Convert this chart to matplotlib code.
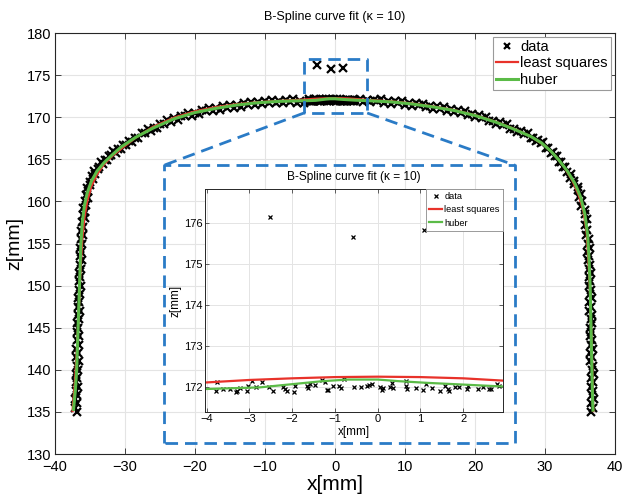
import matplotlib
matplotlib.use('Agg')
import matplotlib.pyplot as plt

plt.rcParams['font.family'] = ['Liberation Sans', 'DejaVu Sans']

# scanned profile points (mm)
data_x = [
    # left leg
    -36.80, -37.14, -36.92, -37.16, -36.79, -36.98, -36.71, -37.05, -36.83, -37.07,
    -36.70, -36.89, -36.62, -36.96, -36.74, -36.98, -36.61, -36.80, -36.53, -36.87,
    -36.65, -36.88, -36.51, -36.68, -36.41, -36.74, -36.52, -36.74, -36.37, -36.55,
    -36.28, -36.60, -36.38, -36.61, -36.24, -36.41, -36.14, -36.47, -36.25, -36.47,
    -36.10, -36.25, -35.95, -36.25, -36.00, -36.20,
    # left corner
    -35.73, -36.06, -35.76, -35.96, -35.52, -35.65, -35.28, -35.58, -35.25, -35.42,
    -34.95, -34.98, -34.53, -34.76, -34.35, -34.40, -33.80, -33.78,
    # left half of the arch
    -33.5, -33.2, -32.9, -32.6, -32.3, -31.98, -31.65, -31.33, -31.0, -30.63,
    -30.25, -29.88, -29.5, -29.03, -28.55, -28.08, -27.6, -27.18, -26.76, -26.34,
    -25.92, -25.5, -25.0, -24.5, -24.0, -23.5, -23.0, -22.5, -22.0, -21.5,
    -21.0, -20.5, -20.0, -19.5, -19.0, -18.5, -18.0, -17.5, -17.0, -16.5,
    -16.0, -15.5, -15.0, -14.5, -14.0, -13.5, -13.0, -12.5, -12.0, -11.5,
    -11.0, -10.5, -10.0, -9.5, -9.0, -8.5, -8.0, -7.5, -7.0, -6.5,
    -6.0, -5.5, -5.0, -4.5,
    # crown (incl. outliers)
    -3.78, -3.75, -3.61, -3.45, -3.31, -3.30, -3.21, -3.06, -3.03, -2.95,
    -2.85, -2.71, -2.54, -2.53, -2.46, -2.22, -2.17, -2.13, -1.97, -1.93,
    -1.66, -1.64, -1.58, -1.47, -1.31, -1.23, -1.19, -1.16, -1.04, -0.90,
    -0.86, -0.79, -0.59, -0.55, -0.38, -0.26, -0.20, -0.14, 0.05, 0.11,
    0.13, 0.29, 0.34, 0.35, 0.65, 0.66, 0.68, 0.89, 1.05, 1.09,
    1.14, 1.28, 1.46, 1.57, 1.65, 1.67, 1.81, 1.91, 2.08, 2.12,
    2.34, 2.47, 2.61, 2.65, 2.78, 2.84,
    # right half of the arch
    3.5, 4.0, 4.5, 5.0, 5.5, 6.0, 6.5, 7.0, 7.5, 8.0,
    8.5, 9.0, 9.5, 10.0, 10.5, 11.0, 11.5, 12.0, 12.5, 13.0,
    13.5, 14.0, 14.5, 15.0, 15.5, 16.0, 16.5, 17.0, 17.5, 18.0,
    18.5, 19.0, 19.5, 20.0, 20.5, 21.0, 21.5, 22.0, 22.5, 23.0,
    23.5, 24.0, 24.5, 25.0, 25.5, 26.0, 26.5, 27.0, 27.5, 28.0,
    28.35, 28.7, 29.05, 29.4, 29.75, 30.1, 30.45, 30.8,
    31.1, 31.4, 31.7, 32.0, 32.3, 32.6, 32.9, 33.2,
    # right corner
    33.72, 33.62, 34.10, 34.08, 34.65, 34.65, 35.12, 34.92, 35.30, 35.18,
    35.70, 35.65, 36.02, 35.72, 36.05, 35.88,
    # right leg
    36.28, 36.12, 36.42, 36.05, 36.32, 36.08, 36.48, 36.30, 36.60, 36.22,
    36.48, 36.23, 36.61, 36.43, 36.71, 36.32, 36.56, 36.31, 36.69, 36.50,
    36.78, 36.40, 36.64, 36.38, 36.76, 36.58, 36.86, 36.47, 36.71, 36.46,
    36.84, 36.65, 36.93, 36.55, 36.79, 36.53, 36.91, 36.72, 37.00, 36.60,
    36.84, 36.60,
]
data_z = [
    135.0, 135.5, 136.0, 136.5, 137.0, 137.5, 138.0, 138.5, 139.0, 139.5,
    140.0, 140.5, 141.0, 141.5, 142.0, 142.5, 143.0, 143.5, 144.0, 144.5,
    145.0, 145.5, 146.0, 146.5, 147.0, 147.5, 148.0, 148.5, 149.0, 149.5,
    150.0, 150.5, 151.0, 151.5, 152.0, 152.5, 153.0, 153.5, 154.0, 154.5,
    155.0, 155.5, 156.0, 156.5, 157.0, 157.5,
    158.0, 158.4, 158.8, 159.2, 159.6, 160.0, 160.4, 160.8, 161.2, 161.6,
    162.0, 162.33, 162.65, 162.98, 163.3, 163.58, 163.85, 164.13,
    164.62, 164.45, 164.90, 164.86, 165.45, 165.48, 165.97, 165.80, 166.25, 166.18,
    166.75, 166.75, 167.22, 167.07, 167.55, 167.53, 168.15, 168.13, 168.58, 168.36,
    168.77, 168.68, 169.23, 169.21, 169.66, 169.44, 169.85, 169.70, 170.18, 170.10,
    170.49, 170.20, 170.55, 170.36, 170.82, 170.70, 171.05, 170.74, 171.05, 170.85,
    171.28, 171.15, 171.49, 171.15, 171.45, 171.23, 171.65, 171.50, 171.82, 171.47,
    171.75, 171.51, 171.90, 171.73, 172.02, 171.65, 171.90, 171.65, 172.03, 171.85,
    172.13, 171.74, 171.98, 171.72,
    171.92, 172.12, 171.96, 171.96, 171.88, 171.90, 171.98, 171.92, 172.04, 172.16,
    172.02, 172.12, 172.00, 176.16, 171.92, 172.00, 171.96, 171.92, 171.88, 172.04,
    172.04, 171.98, 172.09, 172.06, 172.19, 172.12, 171.94, 171.94, 172.04, 172.04,
    171.98, 172.21, 175.67, 172.01, 172.01, 172.04, 172.06, 172.09, 172.00, 171.94,
    171.98, 172.00, 172.11, 171.98, 172.15, 172.04, 171.96, 171.98, 171.93, 175.84,
    172.09, 171.98, 171.90, 172.04, 171.96, 171.90, 172.02, 172.00, 171.96, 172.04,
    171.96, 172.00, 171.96, 171.96, 172.09, 172.04,
    172.22, 171.81, 172.03, 171.75, 172.10, 171.87, 172.12, 171.69, 171.90, 171.60,
    171.93, 171.69, 171.92, 171.47, 171.66, 171.35, 171.66, 171.40, 171.62, 171.16,
    171.33, 171.00, 171.30, 171.03, 171.23, 170.76, 170.92, 170.58, 170.85, 170.55,
    170.72, 170.22, 170.35, 169.98, 170.22, 169.88, 170.02, 169.49, 169.58, 169.18,
    169.39, 169.03, 169.14, 168.58, 168.65, 168.20, 168.39, 168.01, 168.10, 167.52,
    167.57, 167.13, 167.32, 166.95, 167.00, 166.32, 166.32, 165.78,
    165.87, 165.40, 165.40, 164.72, 164.63, 164.03, 164.07, 163.55,
    163.2, 162.8, 162.45, 162.1, 161.7, 161.3, 160.9, 160.5, 160.0, 159.5,
    159.0, 158.5, 157.9, 157.25, 156.6, 156.0,
    155.5, 155.0, 154.5, 154.0, 153.5, 153.0, 152.5, 152.0, 151.5, 151.0,
    150.5, 150.0, 149.5, 149.0, 148.5, 148.0, 147.5, 147.0, 146.5, 146.0,
    145.5, 145.0, 144.5, 144.0, 143.5, 143.0, 142.5, 142.0, 141.5, 141.0,
    140.5, 140.0, 139.5, 139.0, 138.5, 138.0, 137.5, 137.0, 136.5, 136.0,
    135.5, 135.0,
]

# least squares B-spline fit
lsq_x = [-37.5, -37.2, -36.9, -36.6, -36.35, -36.1, -35.8, -35.4, -34.8, -34.0,
         -33.0, -31.8, -30.3, -28.5, -26.0, -23.0, -20.0, -17.0, -14.0, -11.0,
         -8.0, -6.0, -5.0, -4.0, -3.0, -2.0, -1.0, 0.0, 1.0, 2.0,
         3.0, 4.0, 5.0, 8.0, 11.0, 14.0, 17.0, 20.0, 23.0, 25.5,
         28.0, 30.0, 31.5, 32.8, 33.9, 34.8, 35.5, 35.95, 36.2, 36.4,
         36.55, 36.7, 36.8, 36.9]
lsq_z = [135.1, 138.0, 142.0, 147.0, 152.0, 155.5, 158.0, 160.0, 161.8, 163.2,
         164.4, 165.4, 166.4, 167.55, 168.85, 169.95, 170.7, 171.2, 171.55, 171.78,
         171.93, 172.02, 172.07, 172.12, 172.18, 172.22, 172.25, 172.26, 172.25, 172.22,
         172.16, 172.1, 172.03, 171.88, 171.63, 171.28, 170.85, 170.25, 169.45, 168.65,
         167.7, 166.6, 165.4, 164.0, 162.5, 160.8, 158.8, 156.3, 153.0, 150.0,
         146.0, 142.0, 138.0, 135.1]

# huber B-spline fit
huber_x = [-37.35, -37.1, -36.9, -36.7, -36.5, -36.3, -36.1, -35.8, -35.4, -34.8,
           -34.0, -33.0, -32.0, -30.5, -28.5, -26.0, -23.0, -20.0, -17.0, -14.0,
           -11.0, -8.0, -6.0, -4.0, -2.75, -1.3, -0.7, 0.0, 0.5, 1.15,
           2.95, 5.0, 8.0, 11.0, 14.0, 17.0, 20.0, 23.0, 25.5, 28.0,
           29.5, 30.8, 32.0, 33.2, 34.3, 35.1, 35.7, 36.1, 36.3, 36.45,
           36.55, 36.65, 36.75, 36.85]
huber_z = [135.3, 137.5, 140.0, 145.0, 150.0, 155.0, 157.5, 159.5, 161.0, 162.4,
           163.6, 164.6, 165.4, 166.5, 167.6, 168.7, 169.8, 170.55, 171.05, 171.45,
           171.72, 171.88, 171.93, 171.96, 172.0, 172.15, 172.19, 172.19, 172.15, 172.11,
           172.02, 171.95, 171.82, 171.57, 171.22, 170.8, 170.2, 169.4, 168.6, 167.7,
           166.95, 166.0, 164.9, 163.6, 162.1, 160.5, 158.5, 156.0, 153.0, 150.0,
           146.0, 142.0, 138.0, 135.2]

title = 'B-Spline curve fit (\u03ba = 10)'
labels = ['data', 'least squares', 'huber']

RED = '#e8322a'
GREEN = '#5bbb47'
BLUE = '#2a7bc6'
GRID = '#e4e4e4'
DASH = (0, (4.5, 2.5))

W, H = 624, 496


def px_rect(left, top, right, bottom):
    return [left / W, 1 - bottom / H, (right - left) / W, (bottom - top) / H]


fig = plt.figure(figsize=(W / 100, H / 100), dpi=100)

# ---- main view ----
ax = fig.add_axes(px_rect(55, 33, 615, 454))
ax.plot(data_x, data_z, 'x', color='k', ms=5.4, mew=1.6, label=labels[0], zorder=2)
ax.plot(lsq_x, lsq_z, color=RED, lw=1.6, label=labels[1], zorder=3)
ax.plot(huber_x, huber_z, color=GREEN, lw=2.2, label=labels[2], zorder=4)
ax.set_xlim(-40, 40)
ax.set_ylim(130, 180)
ax.set_xticks(range(-40, 41, 10))
ax.set_yticks(range(130, 181, 5))
ax.grid(True, color=GRID, lw=0.8)
ax.set_axisbelow(True)
ax.tick_params(direction='in', top=True, right=True, length=4, width=0.6,
               labelsize=10.5, colors='#262626', labelcolor='black')
ax.tick_params(axis='x', pad=4)
ax.tick_params(axis='y', pad=2.5)
for sp in ax.spines.values():
    sp.set_color('#262626')
    sp.set_linewidth(0.8)
ax.set_title(title, fontsize=9, pad=9.5)
ax.set_xlabel('x[mm]', fontsize=15)
ax.set_ylabel('z[mm]', fontsize=14)
ax.xaxis.set_label_coords(0.5, (454 - 485) / 421)
ax.xaxis.label.set_va('center')
ax.yaxis.set_label_coords((15 - 55) / 560, 0.5)
ax.yaxis.label.set_va('center')
leg = ax.legend(loc='upper right', fontsize=10.5, fancybox=False, framealpha=1,
                edgecolor='#9a9a9a', borderaxespad=0.25, borderpad=0.25,
                handlelength=1.5, handletextpad=0.15, labelspacing=0.15,
                markerscale=0.75)
leg.get_frame().set_linewidth(0.8)

# zoom window and the frame holding the magnified view
win_x, win_z = (-4.43, 4.6), (170.5, 176.9)
frm_x, frm_z = (-24.4, 25.7), (131.3, 164.3)
ax.plot([win_x[0], win_x[0], win_x[1], win_x[1], win_x[0]],
        [win_z[0], win_z[1], win_z[1], win_z[0], win_z[0]],
        color=BLUE, lw=2, ls=DASH, zorder=5)
ax.plot([frm_x[0], frm_x[0], frm_x[1], frm_x[1], frm_x[0]],
        [frm_z[0], frm_z[1], frm_z[1], frm_z[0], frm_z[0]],
        color=BLUE, lw=2, ls=DASH, zorder=5)
ax.plot([win_x[0], frm_x[0]], [win_z[0], frm_z[1]], color=BLUE, lw=2, ls=DASH, zorder=5)
ax.plot([win_x[1], frm_x[1]], [win_z[0], frm_z[1]], color=BLUE, lw=2, ls=DASH, zorder=5)

# ---- magnified view ----
axin = fig.add_axes(px_rect(205, 189, 503, 412))
axin.plot(data_x, data_z, 'x', color='k', ms=2.8, mew=0.9, label=labels[0])
axin.plot(lsq_x, lsq_z, color=RED, lw=1.6, label=labels[1])
axin.plot(huber_x, huber_z, color=GREEN, lw=1.6, label=labels[2])
axin.set_xlim(-4.04, 2.93)
axin.set_ylim(171.4, 176.83)
axin.set_xticks(range(-4, 3))
axin.set_yticks(range(172, 177))
axin.grid(True, color=GRID, lw=0.7)
axin.set_axisbelow(True)
axin.tick_params(direction='in', top=True, right=True, length=3, width=0.5,
                 labelsize=8, pad=1.5, colors='#262626', labelcolor='black')
for sp in axin.spines.values():
    sp.set_color('#262626')
    sp.set_linewidth(0.7)
axin.set_title(title, fontsize=8.6, pad=6.5)
axin.set_xlabel('x[mm]', fontsize=8.5)
axin.set_ylabel('z[mm]', fontsize=8.5)
axin.xaxis.set_label_coords(0.5, (412 - 431.7) / 223)
axin.xaxis.label.set_va('center')
axin.yaxis.set_label_coords((175 - 205) / 298, 0.5)
axin.yaxis.label.set_va('center')
leg2 = axin.legend(loc='upper right', fontsize=6.7, fancybox=False, framealpha=1,
                   edgecolor='#9a9a9a', borderaxespad=0, borderpad=0.35,
                   handlelength=1.4, handletextpad=0.2, labelspacing=0.45)
leg2.get_frame().set_linewidth(0.7)

fig.savefig('out.png', dpi=100)
